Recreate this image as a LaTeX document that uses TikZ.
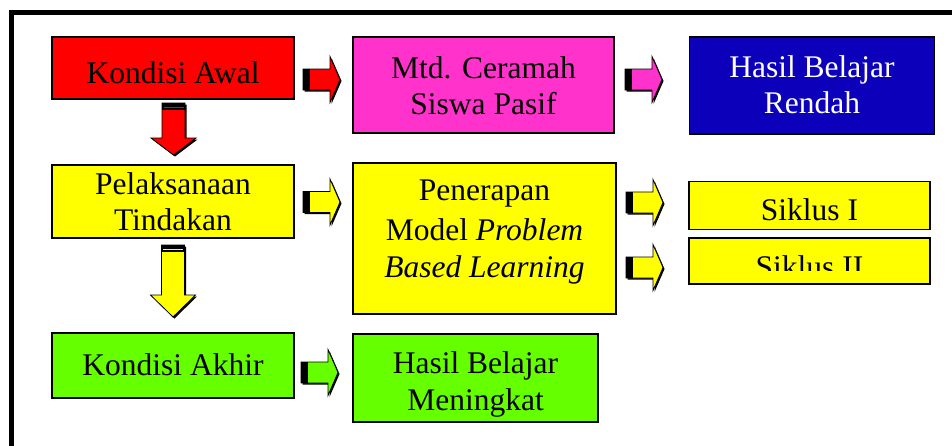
\documentclass[tikz,border=0pt]{standalone}
\usepackage{fontspec}
\setmainfont{Liberation Serif}
\definecolor{cRed}{HTML}{FF0000}
\definecolor{cMag}{HTML}{FF33CC}
\definecolor{cBlue}{HTML}{0C00BB}
\definecolor{cYel}{HTML}{FFFF00}
\definecolor{cGrn}{HTML}{66FF00}
\tikzset{
  box/.style={draw=black, line width=1.5pt, inner sep=0pt, minimum width=#1},
  lbl/.style={anchor=base, inner sep=0pt, font=\fontsize{31.5}{36}\selectfont},
  pics/rarrow/.style={code={
    \fill[black] (1.5,-9) -- (28.5,-9) -- (28.5,-21.5) -- (38.5,1.5) -- (28.5,24.5) -- (28.5,12) -- (1.5,12) -- cycle;
    \filldraw[fill=#1, draw=black, line width=0.8pt] (0,-10.5) -- (27,-10.5) -- (27,-23) -- (37,0) -- (27,23) -- (27,10.5) -- (0,10.5) -- cycle;
    \fill[black] (0,-10.5) rectangle (7,10.5);
  }},
  pics/darrow/.style n args={3}{code={
    \fill[black] (-10,1.5) -- (-10,{#2-#3+1.5}) -- (-21,{#2-#3+1.5}) -- (1.5,{#2+1.5}) -- (24,{#2-#3+1.5}) -- (13,{#2-#3+1.5}) -- (13,1.5) -- cycle;
    \filldraw[fill=#1, draw=black, line width=0.8pt] (-11.5,0) -- (-11.5,{#2-#3}) -- (-22.5,{#2-#3}) -- (0,#2) -- (22.5,{#2-#3}) -- (11.5,{#2-#3}) -- (11.5,0) -- cycle;
    \fill[black] (-11.5,0) rectangle (11.5,7);
    \draw[#1, line width=1pt] (-10,4.5) -- (10,4.5);
  }}
}
\begin{document}
\begin{tikzpicture}[x=1pt, y=-1pt]
\useasboundingbox (0,0) rectangle (952,445);
\fill[white] (0,0) rectangle (952,445);
\begin{scope}
  \clip (0,0) rectangle (952,445);
  \draw[line width=5pt] (11,12.5) rectangle (990,480);
\end{scope}

% boxes
\node[box=242pt, minimum height=62pt, fill=cRed] (awal) at (173,68) {};
\node[box=261pt, minimum height=96pt, fill=cMag] (mtd) at (483.5,85) {};
\node[box=245pt, minimum height=97pt, fill=cBlue] (rendah) at (812,85.5) {};
\node[box=242pt, minimum height=73pt, fill=cYel] (tindak) at (173,201.5) {};
\node[box=263pt, minimum height=151pt, fill=cYel] (pbl) at (484.5,238.5) {};
\node[box=241pt, minimum height=48pt, fill=cYel] (s1) at (809.5,205.5) {};
\node[box=241pt, minimum height=46pt, fill=cYel] (s2) at (809.5,261) {};
\node[box=242pt, minimum height=65pt, fill=cGrn] (akhir) at (173,365.5) {};
\node[box=245pt, minimum height=88pt, fill=cGrn] (naik) at (475.5,378) {};

% texts
\node[lbl] (t1) at (173,83) {Kondisi Awal};
\node[lbl] (t2) at (483.5,78) {Mtd. Ceramah};
\node[lbl] (t3) at (483.5,114) {Siswa Pasif};
\node[lbl, text=white] (t4) at (812,77) {Hasil Belajar};
\node[lbl, text=white] (t5) at (812,113) {Rendah};
\node[lbl] (t6) at (173,194) {Pelaksanaan};
\node[lbl] (t7) at (173,230) {Tindakan};
\node[lbl] (t8) at (484.5,200) {Penerapan};
\node[lbl] (t9) at (484.5,240) {Model \textit{Problem}};
\node[lbl] (t10) at (484.5,277) {\textit{Based Learning}};
\node[lbl] (t11) at (809.5,220) {Siklus I};
\begin{scope}
  \clip (690,239) rectangle (930,270);
  \node[lbl] (t12) at (809.5,277) {Siklus II};
\end{scope}
\node[lbl] (t13) at (173,375) {Kondisi Akhir};
\node[lbl] (t14) at (475.5,373) {Hasil Belajar};
\node[lbl] (t15) at (475.5,410) {Meningkat};

% block arrows
\pic (a1) at (303,79.5) {rarrow=cRed};
\pic (a2) at (625,79.5) {rarrow=cMag};
\pic (a3) at (303,202) {rarrow=cYel};
\pic (a4) at (626,202.5) {rarrow=cYel};
\pic (a5) at (626,267.5) {rarrow=cYel};
\pic (a6) at (301,372.5) {rarrow=cGrn};
\pic (d1) at (173.5,103) {darrow={cRed}{52}{17}};
\pic (d2) at (173,245) {darrow={cYel}{72}{22}};
\end{tikzpicture}
\end{document}
